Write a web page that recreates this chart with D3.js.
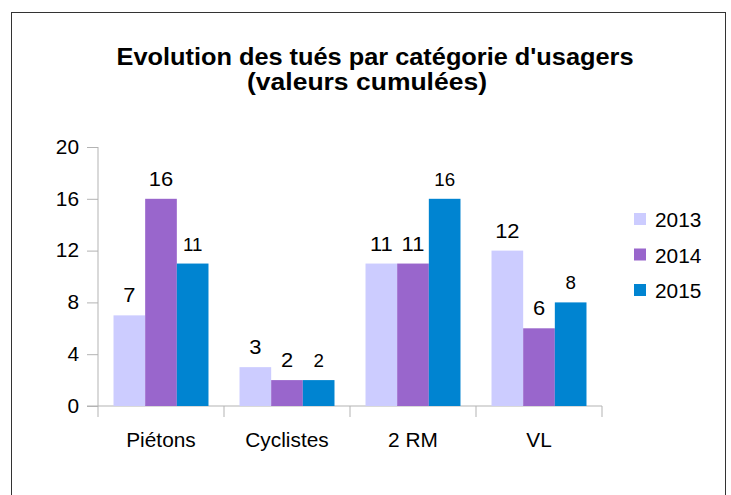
<!DOCTYPE html>
<html>
<head>
<meta charset="utf-8">
<script src="https://cdn.jsdelivr.net/npm/d3@7"></script>
<style>
  body { margin: 0; background: #fff; }
  svg { display: block; font-family: "Liberation Sans", Arial, sans-serif; }
</style>
</head>
<body>
<div id="chart"></div>
<script>
const categories = ["Piétons", "Cyclistes", "2 RM", "VL"];
const years = ["2013", "2014", "2015"];
const values2013 = [7, 3, 11, 12];
const values2014 = [16, 2, 11, 6];
const values2015 = [11, 2, 16, 8];
const yTicks = [0, 4, 8, 12, 16, 20];
const colors = ["#ccccff", "#9966cc", "#0084d1"];
const titleLines = ["Evolution des tués par catégorie d'usagers", "(valeurs cumulées)"];

const series = [values2013, values2014, values2015];

// the reference text is a bit wider than the plain font
const sx = 1.07;

window.onload = function () {
    const width = 731, height = 495;
    const margin = {left: 98, right: 129, top: 147, bottom: 89};

    const svg = d3.select("#chart").append("svg")
        .attr("width", width)
        .attr("height", height);

    // frame
    svg.append("rect")
        .attr("x", 11.5).attr("y", 12.5)
        .attr("width", 714).attr("height", 500)
        .attr("fill", "none")
        .attr("stroke", "#333")
        .attr("stroke-width", 1);

    // title
    const titleX = [375, 367];
    const titleW = [517, 240];
    svg.append("g").selectAll("text")
        .data(titleLines)
        .join("text")
        .attr("x", (d, i) => titleX[i] - titleW[i] / 2)
        .attr("y", (d, i) => 65 + i * 25)
        .attr("textLength", (d, i) => titleW[i])
        .attr("lengthAdjust", "spacingAndGlyphs")
        .attr("font-weight", "bold")
        .attr("font-size", 23.5)
        .attr("fill", "#000")
        .text(d => d);

    const x0 = d3.scaleBand()
        .domain(categories)
        .range([margin.left, width - margin.right]);

    const x1 = d3.scaleBand()
        .domain(years)
        .range([0, x0.bandwidth()])
        .paddingOuter(0.49);

    const y = d3.scaleLinear()
        .domain([0, 20])
        .range([height - margin.bottom, margin.top]);

    const axisColor = "#b3b3b3";

    // y axis
    const yAxis = svg.append("g")
        .attr("transform", `translate(${margin.left},0)`)
        .call(d3.axisLeft(y).tickValues(yTicks).tickSize(11).tickPadding(8));
    yAxis.select(".domain").remove();
    yAxis.selectAll(".tick line").attr("stroke", axisColor);
    yAxis.selectAll(".tick text")
        .attr("x", null)
        .attr("transform", `translate(-19,0) scale(${sx},1)`)
        .attr("font-size", 19.5)
        .attr("font-family", "Liberation Sans, Arial, sans-serif")
        .attr("fill", "#000");
    yAxis.append("line")
        .attr("x1", 0).attr("x2", 0)
        .attr("y1", y(20)).attr("y2", y(0) + 11)
        .attr("stroke", axisColor);

    // x axis
    const xAxis = svg.append("g")
        .attr("transform", `translate(0,${y(0)})`);
    xAxis.append("line")
        .attr("x1", margin.left - 11).attr("x2", width - margin.right)
        .attr("stroke", axisColor);
    xAxis.selectAll("line.tick")
        .data(categories)
        .join("line")
        .attr("class", "tick")
        .attr("x1", d => x0(d) + x0.bandwidth())
        .attr("x2", d => x0(d) + x0.bandwidth())
        .attr("y1", 0).attr("y2", 11)
        .attr("stroke", axisColor);
    xAxis.selectAll("text")
        .data(categories)
        .join("text")
        .attr("transform", d => `translate(${x0(d) + x0.bandwidth() / 2},41) scale(${sx},1)`)
        .attr("text-anchor", "middle")
        .attr("font-size", 19.5)
        .attr("fill", "#000")
        .text(d => d);

    // bars
    const groups = svg.append("g").selectAll("g")
        .data(categories)
        .join("g")
        .attr("transform", d => `translate(${x0(d)},0)`);

    const rows = (c, ci) => years.map((yr, si) => ({year: yr, si: si, value: series[si][ci]}));

    groups.selectAll("rect")
        .data(rows)
        .join("rect")
        .attr("x", d => x1(d.year))
        .attr("y", d => y(d.value))
        .attr("width", x1.bandwidth())
        .attr("height", d => y(0) - y(d.value))
        .attr("fill", d => colors[d.si]);

    groups.selectAll("text")
        .data(rows)
        .join("text")
        .attr("transform", d => `translate(${x1(d.year) + x1.bandwidth() / 2},${y(d.value) - 13}) scale(${sx},1)`)
        .attr("text-anchor", "middle")
        .attr("font-size", d => d.si === 2 ? 17.5 : 20.5)
        .attr("fill", "#000")
        .text(d => d.value);

    // legend
    const legend = svg.append("g")
        .attr("transform", "translate(634,213)");
    const items = legend.selectAll("g")
        .data(years)
        .join("g")
        .attr("transform", (d, i) => `translate(0,${i * 35.5})`);
    items.append("rect")
        .attr("width", 12).attr("height", 12)
        .attr("fill", (d, i) => colors[i]);
    items.append("text")
        .attr("transform", `translate(21,14) scale(${sx},1)`)
        .attr("font-size", 19.5)
        .attr("fill", "#000")
        .text(d => d);
};
</script>
</body>
</html>
